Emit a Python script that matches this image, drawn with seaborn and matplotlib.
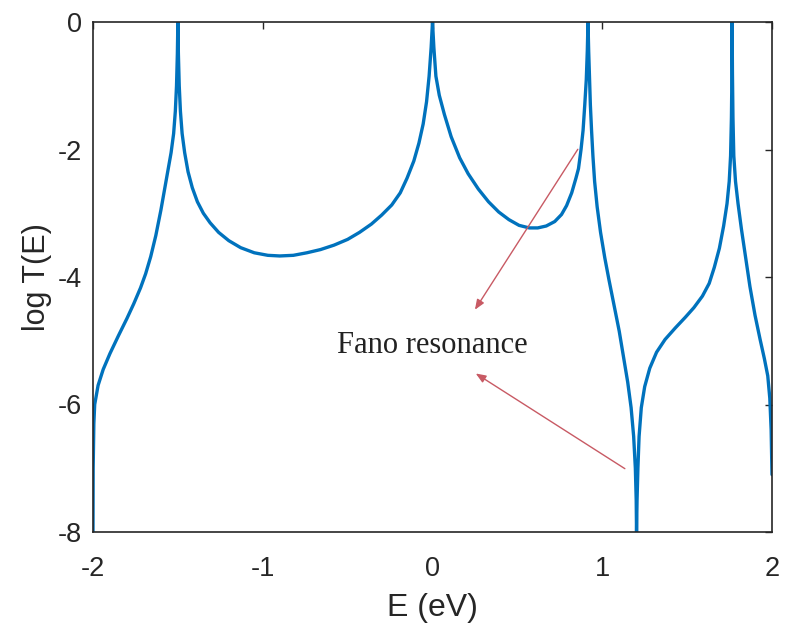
import numpy as np
import pandas as pd
import matplotlib
matplotlib.use("Agg")
import matplotlib.pyplot as plt
import seaborn as sns

# Energy (eV) and log T(E)
energy = [
    -2.0, -1.999, -1.995, -1.99, -1.97, -1.94, -1.90, -1.85, -1.80, -1.76, -1.72, -1.69,
    -1.66, -1.63, -1.60, -1.58, -1.56, -1.54, -1.525, -1.515, -1.508, -1.503, -1.5,
    -1.497, -1.492, -1.485, -1.475, -1.46, -1.44, -1.415, -1.385, -1.35, -1.31, -1.26, -1.2,
    -1.13, -1.05, -0.97, -0.9, -0.82, -0.74, -0.66, -0.58, -0.5, -0.43, -0.36, -0.3, -0.24,
    -0.19, -0.15, -0.11, -0.08, -0.055, -0.035, -0.02, -0.008, 0.0,
    0.008, 0.02, 0.04, 0.07, 0.11, 0.16, 0.21, 0.27, 0.33, 0.39, 0.45, 0.51, 0.57, 0.62,
    0.67, 0.72, 0.76, 0.79, 0.82, 0.845, 0.86, 0.875, 0.887, 0.897, 0.906, 0.912, 0.916,
    0.92, 0.925, 0.93, 0.937, 0.945, 0.955, 0.97, 0.99, 1.015, 1.04, 1.07, 1.1, 1.125,
    1.15, 1.17, 1.185, 1.195, 1.2, 1.202,
    1.205, 1.21, 1.217, 1.23, 1.25, 1.28, 1.32, 1.37, 1.43, 1.49, 1.54, 1.59, 1.63, 1.66,
    1.69, 1.715, 1.735, 1.748, 1.756, 1.761, 1.764, 1.765,
    1.767, 1.77, 1.775, 1.785, 1.8, 1.82, 1.845, 1.87, 1.9, 1.93, 1.955, 1.975, 1.987,
    1.995, 2.0,
]
log_t = [
    -8.0, -7.0, -6.3, -6.0, -5.7, -5.45, -5.2, -4.92, -4.65, -4.42, -4.17, -3.95,
    -3.68, -3.35, -2.95, -2.65, -2.35, -2.05, -1.75, -1.4, -1.0, -0.5, 0.0,
    -0.5, -1.0, -1.4, -1.75, -2.05, -2.35, -2.6, -2.82, -3.0, -3.15, -3.3, -3.43,
    -3.54, -3.62, -3.66, -3.67, -3.66, -3.62, -3.57, -3.5, -3.41, -3.3, -3.17, -3.03, -2.87,
    -2.68, -2.45, -2.18, -1.9, -1.6, -1.25, -0.85, -0.4, 0.0,
    -0.4, -0.85, -1.15, -1.45, -1.8, -2.13, -2.38, -2.62, -2.82, -2.98, -3.1, -3.19, -3.23, -3.23,
    -3.2, -3.13, -3.02, -2.88, -2.68, -2.45, -2.3, -2.0, -1.7, -1.3, -0.9, -0.45, 0.0,
    -0.45, -0.9, -1.3, -1.7, -2.1, -2.5, -2.9, -3.3, -3.7, -4.05, -4.45, -4.85, -5.25,
    -5.65, -6.05, -6.5, -7.0, -7.5, -8.0,
    -7.5, -7.0, -6.5, -6.05, -5.72, -5.43, -5.18, -4.98, -4.8, -4.63, -4.48, -4.3, -4.1, -3.85,
    -3.55, -3.2, -2.85, -2.5, -2.1, -1.5, -0.8, 0.0,
    -0.8, -1.5, -2.1, -2.5, -2.85, -3.25, -3.7, -4.15, -4.6, -4.98, -5.28, -5.55, -5.9,
    -6.4, -7.1,
]

x_ticks = [-2, -1, 0, 1, 2]
y_ticks = [-8, -6, -4, -2, 0]
annotation_text = "Fano resonance"

df = pd.DataFrame({"E": energy, "logT": log_t})

sns.set_theme(style="white")
plt.rcParams["font.family"] = ["Liberation Sans", "DejaVu Sans"]

fig = plt.figure(figsize=(7.85, 6.28), dpi=100)
ax = fig.add_axes([93/785, 1 - 532/628, (772-93)/785, (532-22)/628])

sns.lineplot(data=df, x="E", y="logT", ax=ax, sort=False, estimator=None,
             color="#0072BD", linewidth=2.4)

ax.set_xlim(-2, 2)
ax.set_ylim(-8, 0)
ax.set_xticks(x_ticks)
ax.set_yticks(y_ticks)
ax.set_xticklabels([str(t) for t in x_ticks])
ax.set_yticklabels([str(t) for t in y_ticks])
ax.tick_params(direction="in", length=5, width=1, colors="#262626",
               top=True, right=True, labelsize=19.5, pad=8)
ax.tick_params(axis="x", pad=17)
for s in ax.spines.values():
    s.set_color("#262626")
    s.set_linewidth(1.2)
    s.set_visible(True)

ax.set_xlabel("E (eV)", fontsize=23, color="#262626", labelpad=8)
ax.set_ylabel("log T(E)", fontsize=22, color="#262626", labelpad=4)

ax.text(0.0, -5.07, annotation_text, ha="center", va="center",
        fontsize=22, family=["Liberation Serif", "DejaVu Serif"], color="#222222")
arrow_kw = dict(arrowstyle="-|>,head_length=0.5,head_width=0.2", color="#C85A64", lw=1.0)
ax.annotate("", xy=(0.241, -4.55), xytext=(0.865, -1.96), arrowprops=arrow_kw)
ax.annotate("", xy=(0.241, -5.49), xytext=(1.147, -7.03), arrowprops=arrow_kw)

fig.savefig("out.png", dpi=100)
